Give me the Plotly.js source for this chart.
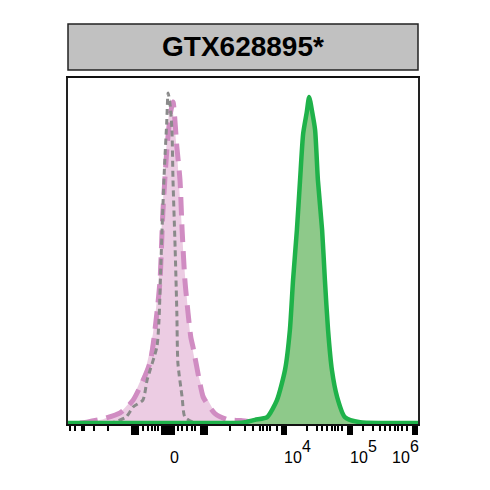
<!DOCTYPE html>
<html><head><meta charset="utf-8">
<script src="https://cdn.plot.ly/plotly-3.0.1.min.js"></script>
<style>html,body{margin:0;padding:0;background:#fff}#plot{width:490px;height:490px}</style>
</head><body><div id="plot"></div>
<script>
// x values are display channels (biexponential display, 0-1000); y values are % of max
const fillX = [0, 60, 94, 150, 180, 223, 243, 258, 268, 278, 287, 293, 303, 313, 322, 332, 349, 366, 385, 400, 437, 480, 520, 560, 600, 1000];
const fillY = [0, 0.4, 1.2, 3.5, 6.9, 16.5, 26.3, 40, 58, 75, 88, 94, 88, 76, 62, 46, 26.3, 16.5, 10, 6.9, 1.2, 0.9, 0.7, 0.2, 0, 0];

const dashX = [34, 57, 100, 149, 186, 234, 254, 263, 271, 283, 293, 300, 311, 320, 326, 334, 343, 351, 357, 377, 386, 391, 420, 457, 494, 549, 580];
const dashY = [0.3, 0.6, 1.5, 3.2, 6.9, 17.6, 32.1, 41.6, 61.0, 80.1, 90, 93.1, 80.1, 70.5, 56.1, 41.6, 32.1, 25, 22.3, 11.7, 7.8, 6.9, 3, 1.2, 1.0, 0.3, 0];

const dotX = [60, 123, 166, 186, 214, 226, 254, 260, 265, 270, 276, 282, 286, 292, 297, 300, 306, 311, 314, 326, 334, 363, 400];
const dotY = [0, 0.3, 2.0, 4.9, 6.9, 12.7, 22.3, 30, 45, 60, 75, 87, 95.7, 92, 85.0, 70.5, 51.2, 32.1, 17.6, 7.8, 2.0, 0.3, 0];

const greenX = [0, 200, 400, 480, 506, 534, 569, 597, 620, 634, 643, 654, 663, 672, 682, 689, 698, 706, 714, 726, 734, 743, 754, 769, 791, 834, 900, 1000];
const greenY = [0.3, 0.3, 0.3, 0.3, 0.5, 1.2, 2.0, 6.9, 15.6, 27.2, 41.6, 56.1, 70.5, 84.0, 90, 94.5, 90, 85.0, 70.5, 56.1, 41.6, 27.2, 15.6, 7.8, 2.0, 0.5, 0.3, 0.3];

const majorTicks = [183, 189, 194, 200, 269, 274, 280, 286, 291, 297, 303, 380, 386, 391, 397, 611, 617, 623, 800, 806, 811, 985, 991, 997];
const minorTicks = [6, 20, 40, 46, 74, 114, 214, 229, 240, 249, 257, 314, 326, 340, 354, 363, 463, 506, 529, 549, 557, 569, 577, 597, 683, 711, 726, 740, 754, 763, 771, 783, 843, 871, 891, 906, 920, 934, 943, 954, 969];

const zeroLabel = {text: '0', x: 303};
const decadeBase = ['10', '10', '10'];
const decadeBaseX = [612, 800, 921];
const decadeExp = ['4', '5', '6'];
const decadeExpX = [663, 852, 970];

const titleText = 'GTX628895*';

const traces = [
  {x: fillX, y: fillY, type: 'scatter', mode: 'lines', fill: 'tozeroy',
   fillcolor: '#eccce3', line: {width: 0, color: '#eccce3', shape: 'spline', smoothing: 0.6}, hoverinfo: 'skip'},
  {x: dashX, y: dashY, type: 'scatter', mode: 'lines',
   line: {width: 5, color: '#d08cc2', dash: '18px,9px', shape: 'spline', smoothing: 0.6}, hoverinfo: 'skip'},
  {x: dotX, y: dotY, type: 'scatter', mode: 'lines',
   line: {width: 3, color: '#8a8a8a', dash: '6px,4px', shape: 'spline', smoothing: 0.6}, hoverinfo: 'skip'},
  {x: greenX, y: greenY, type: 'scatter', mode: 'lines', fill: 'tozeroy',
   fillcolor: '#8ec98a', line: {width: 4.5, color: '#1fb24a', shape: 'spline', smoothing: 0.6}, hoverinfo: 'skip'}
];

const ann = [];
const lblFont = {family: 'Liberation Sans, Arial, sans-serif', size: 16, color: '#000'};
ann.push({xref: 'x', yref: 'paper', x: zeroLabel.x, y: -0.097, text: zeroLabel.text, showarrow: false,
  xanchor: 'center', yanchor: 'middle', font: lblFont});
for (let i = 0; i < decadeBase.length; i++) {
  ann.push({xref: 'x', yref: 'paper', x: decadeBaseX[i], y: -0.097, text: decadeBase[i], showarrow: false,
    xanchor: 'left', yanchor: 'middle', font: lblFont});
  ann.push({xref: 'x', yref: 'paper', x: decadeExpX[i], y: -0.064, text: decadeExp[i], showarrow: false,
    xanchor: 'left', yanchor: 'middle', font: lblFont});
}
ann.push({xref: 'paper', yref: 'paper', x: 0.5, y: 1.091, text: '<b>' + titleText + '</b>', showarrow: false,
  xanchor: 'center', yanchor: 'middle', font: {family: 'Liberation Sans, Arial, sans-serif', size: 28, color: '#000'}});

const layout = {
  width: 490, height: 490,
  margin: {l: 68, r: 72, t: 78, b: 66, pad: 0},
  paper_bgcolor: '#fff', plot_bgcolor: '#fff',
  showlegend: false,
  xaxis: {range: [0, 1000], showgrid: false, zeroline: false,
    showline: true, linecolor: '#111', linewidth: 2, mirror: true,
    tickmode: 'array', tickvals: majorTicks, ticktext: majorTicks.map(() => ''),
    ticks: 'outside', ticklen: 9, tickwidth: 2.5, tickcolor: '#000', showticklabels: false,
    minor: {tickmode: 'array', tickvals: minorTicks, ticks: 'outside', ticklen: 5, tickwidth: 2.5, tickcolor: '#000', showgrid: false}
  },
  yaxis: {range: [0, 100], showgrid: false, zeroline: false,
    showline: true, linecolor: '#222', linewidth: 2, mirror: true,
    ticks: '', showticklabels: false},
  shapes: [
    {type: 'rect', xref: 'paper', yref: 'paper', x0: 0, x1: 1, y0: 1.023, y1: 1.156,
     fillcolor: '#c1c1c1', line: {color: '#222', width: 1.5}, layer: 'above'}
  ],
  annotations: ann
};

Plotly.newPlot('plot', traces, layout, {displayModeBar: false, staticPlot: true});
</script></body></html>
